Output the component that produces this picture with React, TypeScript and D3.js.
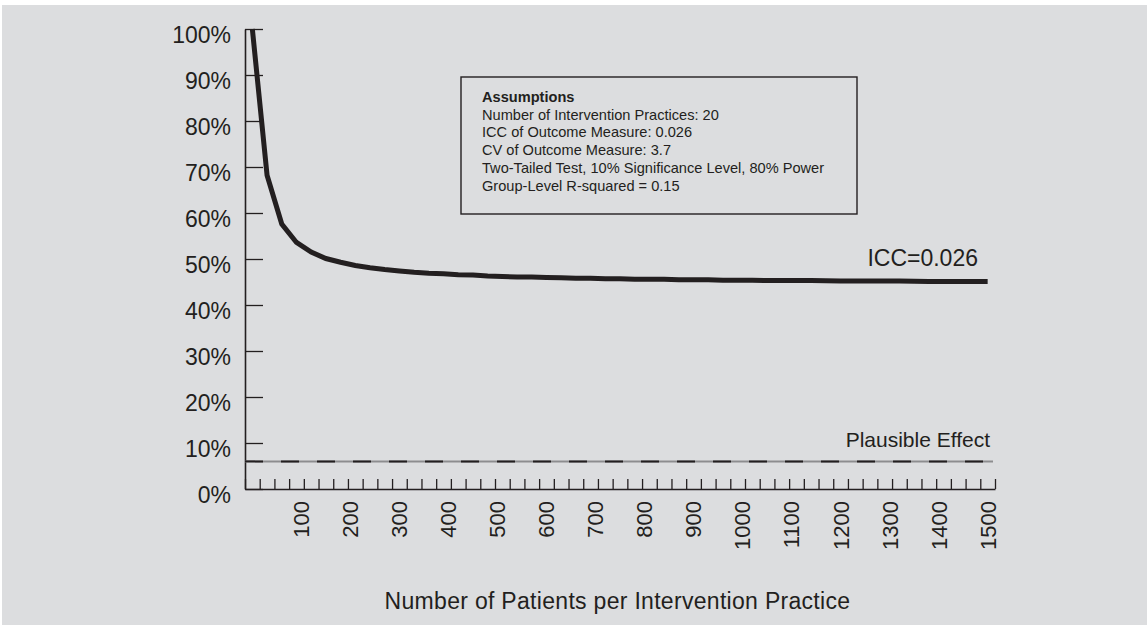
import { useRef, useEffect } from "react";
import * as d3 from "d3";

// patients per practice (x categories) and minimum detectable effect (%)
const patients = [
  10, 30, 60, 90, 120, 150, 180, 210, 240, 270, 300, 330, 360, 390, 420, 450,
  480, 510, 540, 570, 600, 630, 660, 690, 720, 750, 780, 810, 840, 870, 900,
  930, 960, 990, 1020, 1050, 1080, 1110, 1140, 1170, 1200, 1230, 1260, 1290,
  1320, 1350, 1380, 1410, 1440, 1470, 1500,
];
const effect = [
  100, 68.2, 57.6, 53.6, 51.5, 50.1, 49.3, 48.6, 48.1, 47.7, 47.4, 47.1, 46.9,
  46.8, 46.6, 46.5, 46.3, 46.2, 46.1, 46.1, 46.0, 45.9, 45.8, 45.8, 45.7, 45.7,
  45.6, 45.6, 45.6, 45.5, 45.5, 45.5, 45.4, 45.4, 45.4, 45.3, 45.3, 45.3, 45.3,
  45.25, 45.2, 45.2, 45.2, 45.2, 45.2, 45.15, 45.1, 45.1, 45.1, 45.1, 45.1,
];
const xTickLabels = [
  100, 200, 300, 400, 500, 600, 700, 800, 900, 1000, 1100, 1200, 1300, 1400,
  1500,
];
const yTicks = [0, 10, 20, 30, 40, 50, 60, 70, 80, 90, 100];
const plausibleEffect = [6];
const assumptions = [
  "Number of Intervention Practices: 20",
  "ICC of Outcome Measure: 0.026",
  "CV of Outcome Measure: 3.7",
  "Two-Tailed Test, 10% Significance Level, 80% Power",
  "Group-Level R-squared = 0.15",
];

const W = 1147;
const H = 625;
const INK = "#231f20";
const FONT = '"Liberation Sans", Arial, Helvetica, sans-serif';

const App = () => {
  const svgRef = useRef<SVGSVGElement | null>(null);

  useEffect(() => {
    if (!svgRef.current) return;
    const svg = d3.select(svgRef.current);
    svg.selectAll("*").remove();

    const left = 245;
    const right = 995;
    const top = 29;
    const bottom = 489;

    svg
      .append("rect")
      .attr("x", 2)
      .attr("y", 5)
      .attr("width", W - 2)
      .attr("height", H - 5)
      .attr("fill", "#dcdddf");

    const xBand = d3
      .scaleBand<number>()
      .domain(patients)
      .range([left, right])
      .padding(0);
    const bw = xBand.bandwidth();
    const xPos = (p: number) => (xBand(p) as number) + bw / 2;

    // category index -> pixel, for the tick marks between categories
    const xIdx = d3.scaleLinear().domain([0, patients.length]).range([left, right]);
    // value -> pixel across the category centres, for the number labels
    const xVal = d3
      .scaleLinear()
      .domain(patients)
      .range(patients.map(xPos));

    const y = d3.scaleLinear().domain([0, 100]).range([bottom, top]);

    // x axis (ticks pointing up)
    const xAxisGroup = svg
      .append("g")
      .attr("transform", `translate(0,${bottom})`)
      .call(
        d3
          .axisBottom(xIdx)
          .tickValues(d3.range(0, patients.length + 1))
          .tickSizeInner(-10)
          .tickSizeOuter(0)
          .tickFormat(() => "")
      );
    xAxisGroup.select(".domain").attr("stroke", INK).attr("stroke-width", 1.6);
    xAxisGroup.selectAll(".tick line").attr("stroke", INK).attr("stroke-width", 1.3);

    svg
      .append("g")
      .selectAll("text")
      .data(xTickLabels)
      .join("text")
      .attr("transform", (d) => `translate(${xVal(d)},${bottom + 12}) rotate(-90)`)
      .attr("dy", "0.36em")
      .attr("text-anchor", "end")
      .attr("fill", INK)
      .style("font-family", FONT)
      .style("font-size", "22px")
      .text((d) => d);

    // y axis (ticks pointing right, labels to the left)
    const yAxisGroup = svg
      .append("g")
      .attr("transform", `translate(${left},0)`)
      .call(
        d3
          .axisLeft(y)
          .tickValues(yTicks)
          .tickSizeInner(-18)
          .tickSizeOuter(0)
          .tickPadding(14)
          .tickFormat((d) => `${d}%`)
      );
    yAxisGroup.select(".domain").attr("stroke", INK).attr("stroke-width", 1.6);
    yAxisGroup.selectAll(".tick line").attr("stroke", INK).attr("stroke-width", 1.3);
    yAxisGroup
      .selectAll(".tick text")
      .attr("fill", INK)
      .attr("dy", "0.6em")
      .style("font-family", FONT)
      .style("font-size", "23px");

    // plausible effect line: grey base with dark dashes
    const pe = plausibleEffect[0];
    svg
      .append("line")
      .attr("x1", left)
      .attr("x2", right - 2)
      .attr("y1", y(pe))
      .attr("y2", y(pe))
      .attr("stroke", "#8d8d8f")
      .attr("stroke-width", 2);
    svg
      .append("line")
      .attr("x1", left)
      .attr("x2", right - 2)
      .attr("y1", y(pe))
      .attr("y2", y(pe))
      .attr("stroke", INK)
      .attr("stroke-width", 2)
      .attr("stroke-dasharray", "18 18");
    svg
      .append("text")
      .attr("x", right - 5)
      .attr("y", y(pe) - 14)
      .attr("text-anchor", "end")
      .attr("fill", INK)
      .style("font-family", FONT)
      .style("font-size", "21px")
      .text("Plausible Effect");

    // effect curve
    const line = d3
      .line<number>()
      .x((_, i) => xPos(patients[i]))
      .y((d) => y(d));
    svg
      .append("path")
      .datum(effect)
      .attr("d", line)
      .attr("fill", "none")
      .attr("stroke", INK)
      .attr("stroke-width", 5);

    svg
      .append("text")
      .attr("x", 978)
      .attr("y", y(effect[effect.length - 1]) - 16)
      .attr("text-anchor", "end")
      .attr("fill", INK)
      .style("font-family", FONT)
      .style("font-size", "23px")
      .text("ICC=0.026");

    // assumptions box
    svg
      .append("rect")
      .attr("x", 461)
      .attr("y", 77)
      .attr("width", 396)
      .attr("height", 137)
      .attr("fill", "none")
      .attr("stroke", INK)
      .attr("stroke-width", 1.4);
    svg
      .append("text")
      .attr("x", 482)
      .attr("y", 101.5)
      .attr("fill", INK)
      .style("font-family", FONT)
      .style("font-size", "14.6px")
      .style("font-weight", "bold")
      .text("Assumptions");
    svg
      .append("g")
      .selectAll("text")
      .data(assumptions)
      .join("text")
      .attr("x", 482)
      .attr("y", (_, i) => 119.5 + i * 17.8)
      .attr("fill", INK)
      .style("font-family", FONT)
      .style("font-size", "14.6px")
      .text((d) => d);

    // axis title
    svg
      .append("text")
      .attr("x", 617.5)
      .attr("y", 609)
      .attr("text-anchor", "middle")
      .attr("fill", INK)
      .style("font-family", FONT)
      .style("font-size", "23px")
      .style("letter-spacing", "0.3px")
      .text("Number of Patients per Intervention Practice");
  }, []);

  return (
    <svg
      ref={svgRef}
      width={W}
      height={H}
      style={{ position: "absolute", left: 0, top: 0, display: "block", background: "#ffffff" }}
    ></svg>
  );
};

export default App;
